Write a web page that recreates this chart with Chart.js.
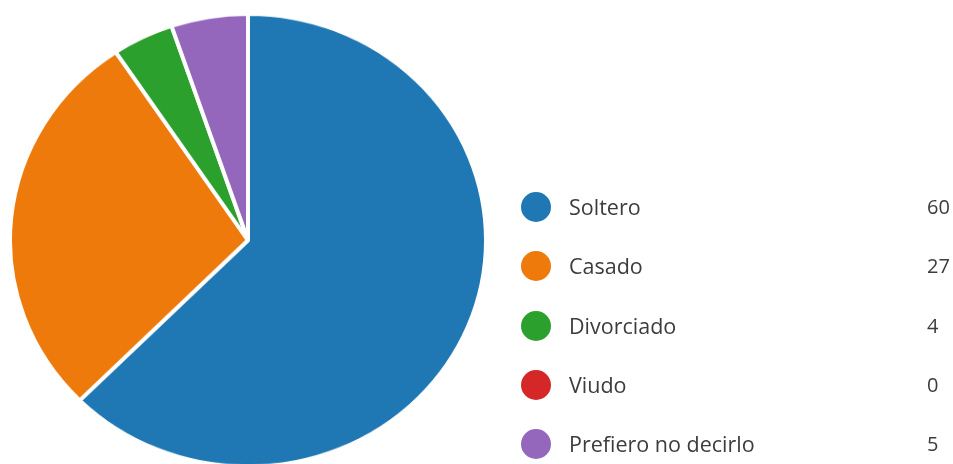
<!DOCTYPE html>
<html>
<head>
<meta charset="utf-8">
<script src="https://cdn.jsdelivr.net/npm/chart.js@4"></script>
<style>
    body {
        margin: 0;
        width: 953px;
        height: 464px;
        background: #ffffff;
        overflow: hidden;
        position: relative;
        font-family: "Open Sans", "Noto Sans", sans-serif;
        color: #3c3c3c;
    }
    #pieBox {
        position: absolute;
        left: 8px;
        top: 12px;
        width: 480px;
        height: 480px;
        transform: scaleY(0.951);
        transform-origin: top left;
    }
    .legendRow {
        position: absolute;
        left: 0;
        height: 30px;
        width: 953px;
    }
    .legendDot {
        position: absolute;
        left: 521px;
        top: 0;
        width: 30px;
        height: 30px;
        border-radius: 50%;
    }
    .legendName, .legendValue {
        position: absolute;
        top: 0;
        line-height: 30px;
        white-space: nowrap;
    }
    .legendName { left: 569px; font-size: 21.5px; }
    .legendValue { left: 927px; font-size: 20px; }
</style>
</head>
<body>
<div id="pieBox"><canvas id="estadoChart" width="480" height="480"></canvas></div>
<div id="legend"></div>

<script>
const categories = ["Soltero", "Casado", "Divorciado", "Viudo", "Prefiero no decirlo"];
const counts = [60, 27, 4, 0, 5];
const sliceColors = ["#1f77b4", "#ef7a0c", "#2ca02c", "#d62728", "#9467bd"];

// Pie chart, slices clockwise from 12 o'clock
const ctx = document.getElementById("estadoChart").getContext("2d");
new Chart(ctx, {
    type: "pie",
    data: {
        labels: categories,
        datasets: [{
            data: counts,
            backgroundColor: sliceColors,
            borderColor: "#ffffff",
            borderWidth: 4
        }]
    },
    options: {
        responsive: false,
        animation: false,
        plugins: {
            legend: { display: false },
            tooltip: { enabled: false }
        }
    }
});

// Legend on the right: dot, name and count per category
function buildLegend() {
    const legend = document.getElementById("legend");
    legend.innerHTML = "";

    categories.forEach((name, i) => {
        const row = document.createElement("div");
        row.className = "legendRow";
        row.style.top = (192 + i * 59.3) + "px";

        const dot = document.createElement("div");
        dot.className = "legendDot";
        dot.style.background = sliceColors[i];

        const label = document.createElement("div");
        label.className = "legendName";
        label.textContent = name;

        const value = document.createElement("div");
        value.className = "legendValue";
        value.textContent = counts[i];

        row.appendChild(dot);
        row.appendChild(label);
        row.appendChild(value);
        legend.appendChild(row);
    });
}

buildLegend();
</script>
</body>
</html>
